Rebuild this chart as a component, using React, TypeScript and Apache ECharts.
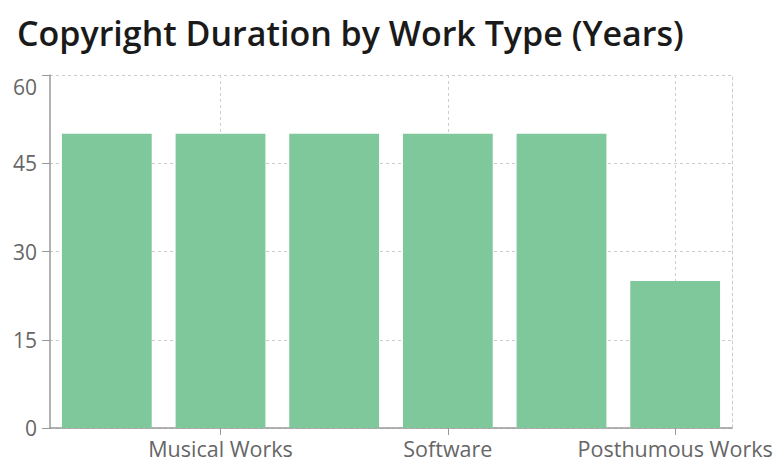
import React, { useEffect, useRef } from "react";
import * as echarts from "echarts";

const titleText = "Copyright Duration by Work Type (Years)";
const categories = [
  "Literary Works",
  "Musical Works",
  "Artistic Works",
  "Software",
  "Films",
  "Posthumous Works",
];
const durations = [50, 50, 50, 50, 50, 25];
const yMin = 0;
const yMax = 60;
const yStep = 15;

const FONT = "'Open Sans', 'Noto Sans', sans-serif";

export default function App() {
  const ref = useRef<HTMLDivElement>(null);
  useEffect(() => {
    if (!ref.current) return;
    const chart = echarts.init(ref.current, undefined, { renderer: "svg" });
    const showIdx = (i: number) => i % 2 === 1;
    chart.setOption({
      animation: false,
      backgroundColor: "#ffffff",
      title: {
        text: titleText,
        left: 17,
        top: 16,
        padding: 0,
        textStyle: {
          fontFamily: FONT,
          fontSize: 34,
          fontWeight: 600,
          color: "#1a1a1a",
        },
      },
      grid: { left: 50, right: 49, top: 75, bottom: 34, containLabel: false },
      xAxis: {
        type: "category",
        data: categories,
        axisLine: { show: true, lineStyle: { color: "#999999", width: 1.5 } },
        axisTick: {
          show: true,
          alignWithLabel: true,
          interval: (i: number) => showIdx(i),
          length: 7,
          lineStyle: { color: "#999999" },
        },
        axisLabel: {
          interval: (i: number) => showIdx(i),
          color: "#666666",
          fontFamily: FONT,
          fontSize: 21.5,
          margin: 9,
        },
        splitLine: {
          show: true,
          alignWithLabel: true,
          interval: (i: number) => showIdx(i),
          lineStyle: { color: "#cccccc", type: [3, 3] },
        },
      },
      yAxis: [
        {
          type: "value",
          min: yMin,
          max: yMax,
          interval: yStep,
          axisLine: { show: true, lineStyle: { color: "#999999", width: 1.5 } },
          axisTick: { show: true, length: 8, lineStyle: { color: "#999999" } },
          axisLabel: {
            color: "#666666",
            fontFamily: FONT,
            fontSize: 21,
            margin: 13,
            formatter: (v: number) => (v === yMax ? `{top|${v}}` : `${v}`),
            rich: {
              top: {
                color: "#666666",
                fontFamily: FONT,
                fontSize: 21,
                padding: [23, 0, 0, 0],
              },
            },
          },
          splitLine: {
            show: true,
            lineStyle: { color: "#cccccc", type: [3, 3] },
          },
        },
        {
          type: "value",
          position: "right",
          min: yMin,
          max: yMax,
          interval: yStep,
          axisLine: { show: true, lineStyle: { color: "#cccccc", type: [3, 3] } },
          axisTick: { show: false },
          axisLabel: { show: false },
          splitLine: { show: false },
        },
      ],
      series: [
        {
          type: "bar",
          data: durations,
          barCategoryGap: "21%",
          itemStyle: { color: "#7fc89b" },
        },
      ],
    });
    return () => chart.dispose();
  }, []);
  return (
    <div
      ref={ref}
      style={{ position: "fixed", left: 0, top: 0, width: 781, height: 462 }}
    />
  );
}
